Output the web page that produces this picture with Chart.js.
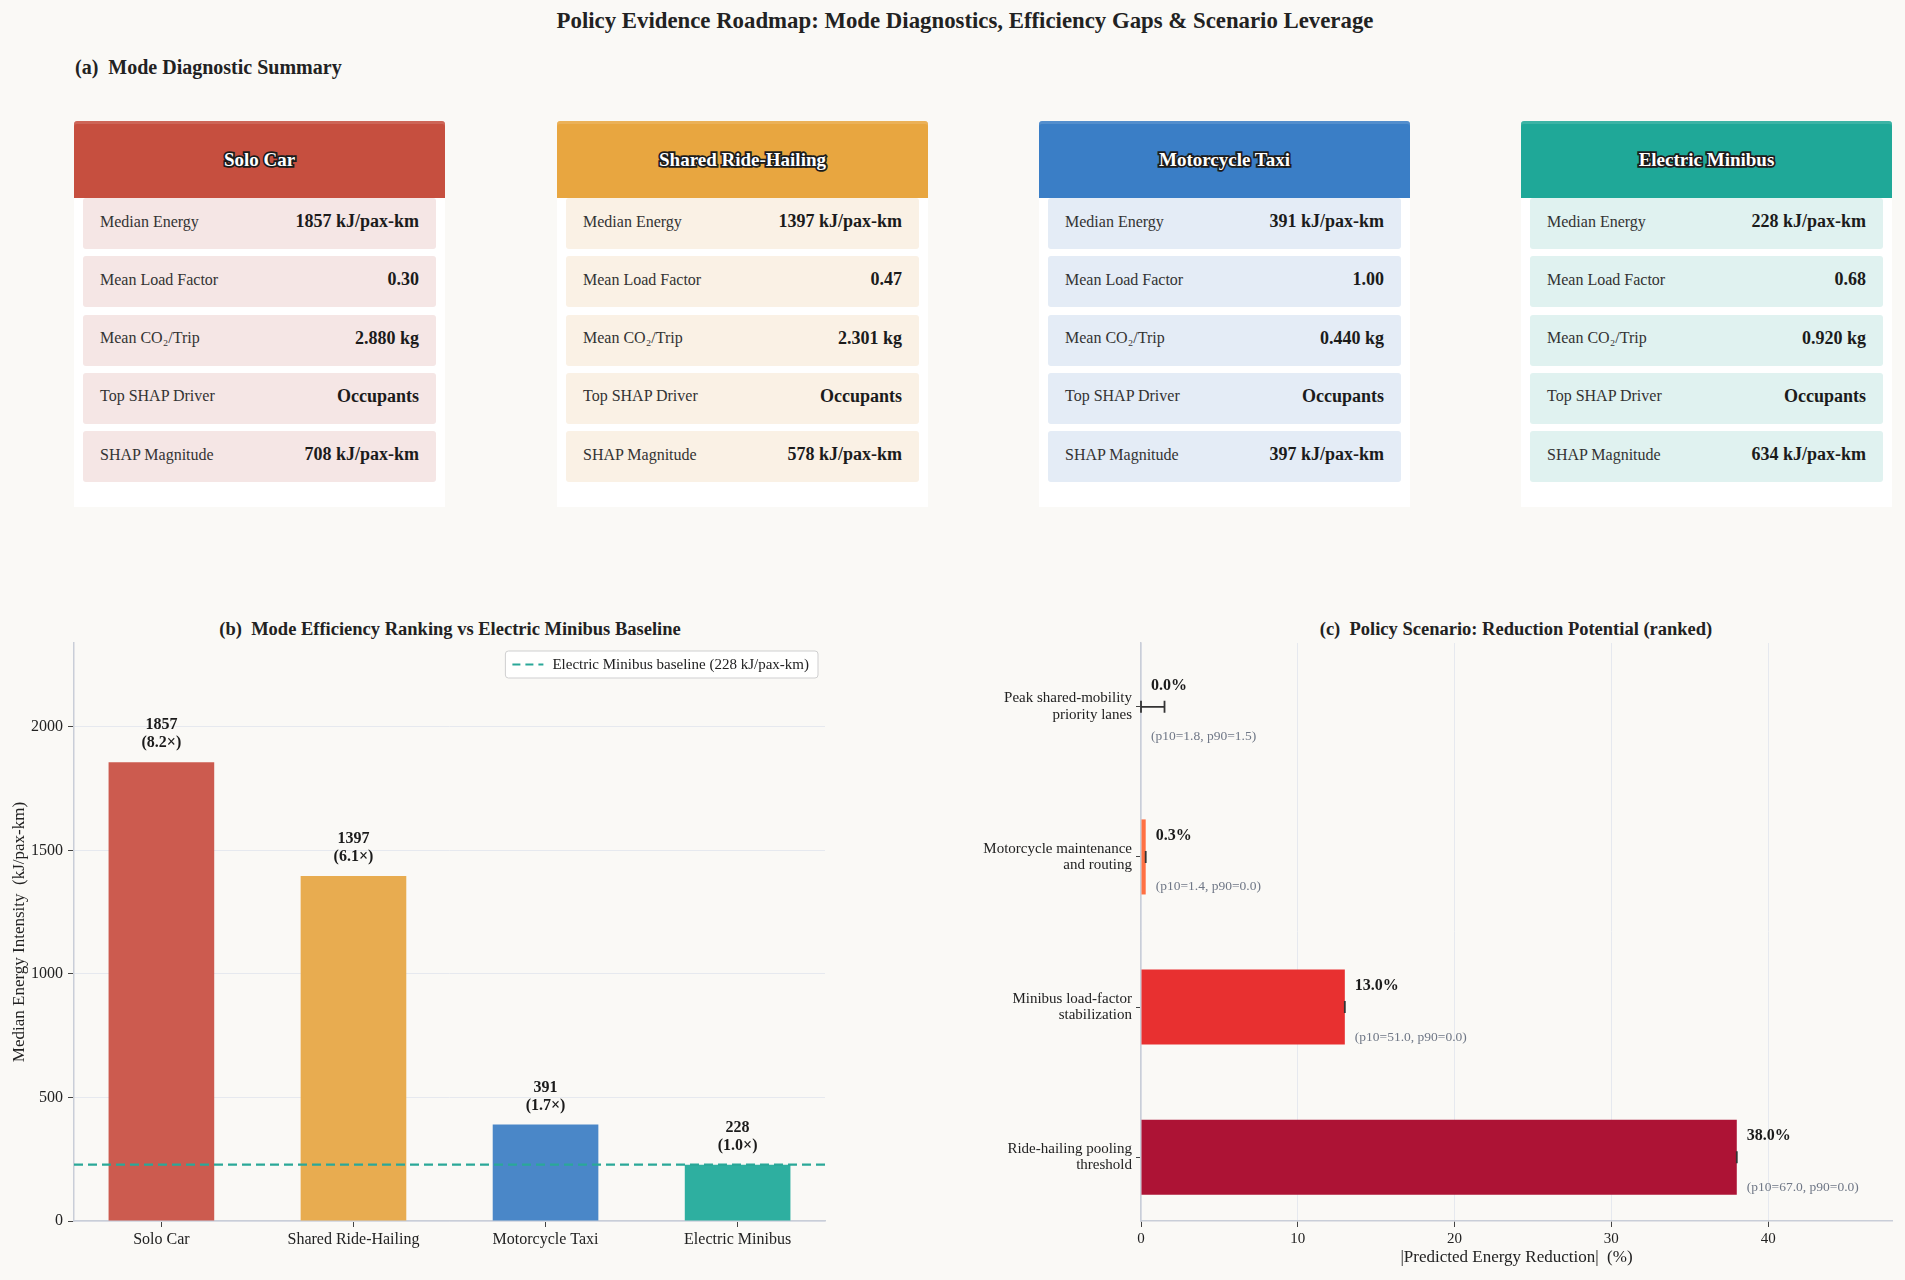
<!DOCTYPE html>
<html>
<head>
<meta charset="utf-8">
<script src="https://cdn.jsdelivr.net/npm/chart.js@4.4.1/dist/chart.umd.min.js"></script>
<style>
body { margin: 0; background: #faf9f6; font-family: "Liberation Serif", "Times New Roman", serif; color: #222; }
#page { position: relative; width: 1905px; height: 1280px; overflow: hidden; }
.ttl { position: absolute; white-space: nowrap; font-weight: bold; color: #222; }
.card { position: absolute; top: 121px; width: 371px; height: 386px; background: #fff; }
.card .hd { height: 77px; border-radius: 3px 3px 0 0; box-shadow: inset 0 3px 0 rgba(255,255,255,0.13);
  display: flex; align-items: center; justify-content: center;
  font-weight: bold; font-size: 19px; color: #fff;
  -webkit-text-stroke: 3.5px #1b1b1b; paint-order: stroke fill; }
.card .row { position: absolute; left: 9px; right: 9px; height: 51px; border-radius: 3px; box-sizing: border-box;
  display: flex; align-items: center; justify-content: space-between; padding: 0 17px 4px 17px; }
.card .row .k { font-size: 16px; color: #333; }
.card .row .v { font-size: 18px; font-weight: bold; color: #1b1b1b; }
.box { position: absolute; }
</style>
</head>
<body>
<div id="page">
  <div class="ttl" style="left:965px;top:21px;transform:translate(-50%,-50%);font-size:22.8px;">Policy Evidence Roadmap: Mode Diagnostics, Efficiency Gaps &amp; Scenario Leverage</div>
  <div class="ttl" style="left:75px;top:67px;transform:translateY(-50%);font-size:20px;">(a)&nbsp; Mode Diagnostic Summary</div>
  <div id="cards"></div>
  <div class="ttl" style="left:450px;top:629px;transform:translate(-50%,-50%);font-size:18.5px;">(b)&nbsp; Mode Efficiency Ranking vs Electric Minibus Baseline</div>
  <div class="ttl" style="left:1516px;top:629px;transform:translate(-50%,-50%);font-size:18.5px;">(c)&nbsp; Policy Scenario: Reduction Potential (ranked)</div>
  <div class="box" style="left:0;top:600px;width:860px;height:680px;"><canvas id="barChart"></canvas></div>
  <div class="box" style="left:880px;top:600px;width:1025px;height:680px;"><canvas id="scenChart"></canvas></div>
</div>
<script>
// panel (a) + (b) data
var modes = ["Solo Car", "Shared Ride-Hailing", "Motorcycle Taxi", "Electric Minibus"];
var medianEnergy = [1857, 1397, 391, 228];
var ratioToBase = [8.2, 6.1, 1.7, 1.0];
var baselineEnergy = 228;
var energyTicks = [0, 500, 1000, 1500, 2000];
var loadFactor = ["0.30", "0.47", "1.00", "0.68"];
var co2PerTrip = ["2.880", "2.301", "0.440", "0.920"];
var topDriver = ["Occupants", "Occupants", "Occupants", "Occupants"];
var shapMagnitude = [708, 578, 397, 634];
var headerColors = ["#c64f3f", "#e8a640", "#3a7ec6", "#1fa898"];
var rowColors = ["#f5e6e5", "#faf1e5", "#e4ecf6", "#e0f2f0"];
var barColors = ["#cc5b4f", "#e8ac50", "#4a87c8", "#2eafa0"];

// panel (c) data
var scenarios = [
  ["Peak shared-mobility", "priority lanes"],
  ["Motorcycle maintenance", "and routing"],
  ["Minibus load-factor", "stabilization"],
  ["Ride-hailing pooling", "threshold"]
];
var reduction = [0.0, 0.3, 13.0, 38.0];
var errLow = [0.0, 0.3, 13.0, 38.0];
var errHigh = [1.5, 0.3, 13.0, 38.0];
var p10 = ["1.8", "1.4", "51.0", "67.0"];
var p90 = ["1.5", "0.0", "0.0", "0.0"];
var reductionTicks = [0, 10, 20, 30, 40];
var scenColors = ["#9e9e9e", "#ff7043", "#e83030", "#ad1335"];

// cards
var cardLeft = [74, 557, 1039, 1521];
var cardsEl = document.getElementById("cards");
modes.forEach(function(m, i) {
  var rows = [
    ["Median Energy", medianEnergy[i] + " kJ/pax-km"],
    ["Mean Load Factor", loadFactor[i]],
    ["Mean CO\u2082/Trip", co2PerTrip[i] + " kg"],
    ["Top SHAP Driver", topDriver[i]],
    ["SHAP Magnitude", shapMagnitude[i] + " kJ/pax-km"]
  ];
  var html = '<div class="hd" style="background:' + headerColors[i] + '">' + m + '</div>';
  rows.forEach(function(r, j) {
    html += '<div class="row" style="top:' + (77 + j * 58.3) + 'px;background:' + rowColors[i] + '">' +
      '<span class="k">' + r[0] + '</span><span class="v">' + r[1] + '</span></div>';
  });
  var d = document.createElement("div");
  d.className = "card";
  d.style.left = cardLeft[i] + "px";
  d.innerHTML = html;
  cardsEl.appendChild(d);
});

Chart.defaults.font.family = '"Liberation Serif", "Times New Roman", serif';
Chart.defaults.color = "#222";

var bar = document.getElementById("barChart");
var scen = document.getElementById("scenChart");

// text above bars in (b)
var barLabels = {
  id: "barLabels",
  afterDatasetsDraw: function(chart) {
    var ctx = chart.ctx;
    var meta = chart.getDatasetMeta(0);
    ctx.save();
    ctx.font = "bold 16px 'Liberation Serif'";
    ctx.fillStyle = "#1b1b1b";
    ctx.textAlign = "center";
    ctx.textBaseline = "middle";
    meta.data.forEach(function(el, i) {
      ctx.fillText(String(medianEnergy[i]), el.x, el.y - 37);
      ctx.fillText("(" + ratioToBase[i].toFixed(1) + "\u00d7)", el.x, el.y - 19);
    });
    ctx.restore();
  }
};

// legend box inside the plot (top right)
var innerLegend = {
  id: "innerLegend",
  afterDraw: function(chart) {
    var ctx = chart.ctx, a = chart.chartArea;
    var ds = chart.data.datasets[1];
    ctx.save();
    ctx.font = "15px 'Liberation Serif'";
    var tw = ctx.measureText(ds.label).width;
    var w = tw + 56, h = 27;
    var x = a.right - 7 - w, y = a.top + 8;
    ctx.fillStyle = "rgba(255,255,255,0.9)";
    ctx.strokeStyle = "#cfcfcf";
    ctx.lineWidth = 1;
    ctx.beginPath();
    ctx.roundRect(x, y, w, h, 3);
    ctx.fill();
    ctx.stroke();
    ctx.strokeStyle = ds.borderColor;
    ctx.lineWidth = 2.2;
    ctx.setLineDash([8, 5]);
    ctx.beginPath();
    ctx.moveTo(x + 7, y + h / 2);
    ctx.lineTo(x + 38, y + h / 2);
    ctx.stroke();
    ctx.setLineDash([]);
    ctx.fillStyle = "#222";
    ctx.textBaseline = "middle";
    ctx.fillText(ds.label, x + 47, y + h / 2 + 1);
    ctx.restore();
  }
};

var myBarChart = new Chart(bar, {
  type: "bar",
  data: {
    datasets: [
      {
        label: "Median energy",
        data: medianEnergy.map(function(v, i) { return { x: i, y: v }; }),
        backgroundColor: barColors,
        borderWidth: 0,
        grouped: false,
        barPercentage: 0.55,
        categoryPercentage: 1.0,
        order: 2
      },
      {
        type: "line",
        label: "Electric Minibus baseline (" + baselineEnergy + " kJ/pax-km)",
        data: [{ x: 0, y: baselineEnergy }, { x: 1, y: baselineEnergy }],
        xAxisID: "x2",
        borderColor: "#2aa898",
        borderWidth: 2.2,
        borderDash: [9, 5],
        pointRadius: 0,
        fill: false,
        order: 0
      }
    ]
  },
  options: {
    responsive: true,
    maintainAspectRatio: false,
    animation: false,
    layout: { padding: { left: 0, right: 35, top: 43, bottom: 0 } },
    plugins: { legend: { display: false }, tooltip: { enabled: false } },
    scales: {
      x: {
        type: "linear",
        offset: false,
        min: -0.455,
        max: 3.455,
        ticks: {
          padding: 3,
          font: { size: 16 },
          callback: function(v) { return modes[v]; }
        },
        afterBuildTicks: function(s) {
          s.ticks = modes.map(function(m, i) { return { value: i }; });
        },
        afterFit: function(s) { s.height = 59; },
        grid: { offset: false, drawOnChartArea: false, tickLength: 6, tickColor: "#444" },
        border: { color: "#c9ced8", width: 1.5 }
      },
      x2: { type: "linear", offset: false, grid: { offset: false }, min: 0, max: 1, display: false },
      y: {
        type: "linear",
        min: 0,
        max: 2340,
        ticks: { padding: 5, font: { size: 16 }, callback: function(v) { return String(v); } },
        afterBuildTicks: function(s) {
          s.ticks = energyTicks.map(function(v) { return { value: v }; });
        },
        afterFit: function(s) { s.width = 74; },
        title: { display: true, text: "Median Energy Intensity  (kJ/pax-km)", font: { size: 17 }, padding: { top: 9, bottom: 0 } },
        grid: { color: "#e6e9ef", lineWidth: 1, tickLength: 6, tickColor: "#444" },
        border: { color: "#c9ced8", width: 1.5 }
      }
    }
  },
  plugins: [barLabels, innerLegend]
});

// error whiskers + labels in (c)
var scenExtras = {
  id: "scenExtras",
  afterDatasetsDraw: function(chart) {
    var ctx = chart.ctx, xs = chart.scales.x;
    var meta = chart.getDatasetMeta(0);
    ctx.save();
    meta.data.forEach(function(el, i) {
      var y = el.y;
      var x1 = xs.getPixelForValue(errLow[i]), x2 = xs.getPixelForValue(errHigh[i]);
      ctx.strokeStyle = "#333";
      ctx.lineWidth = 1.8;
      ctx.beginPath();
      ctx.moveTo(x1, y); ctx.lineTo(x2, y);
      ctx.moveTo(x1, y - 6); ctx.lineTo(x1, y + 6);
      ctx.moveTo(x2, y - 6); ctx.lineTo(x2, y + 6);
      ctx.stroke();
      var lx = el.x + 10;
      ctx.textAlign = "left";
      ctx.textBaseline = "middle";
      ctx.font = "bold 16px 'Liberation Serif'";
      ctx.fillStyle = "#1b1b1b";
      ctx.fillText(reduction[i].toFixed(1) + "%", lx, y - 21);
      ctx.font = "13.5px 'Liberation Serif'";
      ctx.fillStyle = "#6f7786";
      ctx.fillText("(p10=" + p10[i] + ", p90=" + p90[i] + ")", lx, y + 30);
    });
    ctx.restore();
  }
};

var myScenChart = new Chart(scen, {
  type: "bar",
  data: {
    datasets: [{
      label: "Reduction",
      data: reduction.map(function(v, i) { return { x: v, y: i }; }),
      backgroundColor: scenColors,
      borderWidth: 0,
      grouped: false,
      barPercentage: 0.5,
      categoryPercentage: 1.0
    }]
  },
  options: {
    indexAxis: "y",
    responsive: true,
    maintainAspectRatio: false,
    animation: false,
    layout: { padding: { left: 0, right: 13, top: 43, bottom: 0 } },
    plugins: { legend: { display: false }, tooltip: { enabled: false } },
    scales: {
      y: {
        type: "linear",
        offset: false,
        reverse: true,
        min: -0.425,
        max: 3.425,
        ticks: {
          padding: 4,
          font: { size: 15, lineHeight: 1.1 },
          callback: function(v) { return scenarios[v]; }
        },
        afterBuildTicks: function(s) {
          s.ticks = scenarios.map(function(m, i) { return { value: i }; });
        },
        afterFit: function(s) { s.width = 261; },
        grid: { offset: false, drawOnChartArea: false, tickLength: 5, tickColor: "#444" },
        border: { color: "#c9ced8", width: 1.5 }
      },
      x: {
        type: "linear",
        min: 0,
        max: 47.9,
        ticks: { padding: 3, font: { size: 15 }, callback: function(v) { return String(v); } },
        afterBuildTicks: function(s) {
          s.ticks = reductionTicks.map(function(v) { return { value: v }; });
        },
        afterFit: function(s) { s.height = 59; },
        title: { display: true, text: "|Predicted Energy Reduction|  (%)", font: { size: 17 }, padding: { top: 0, bottom: 12 } },
        grid: { color: "#e6e9ef", lineWidth: 1, tickLength: 6, tickColor: "#444" },
        border: { color: "#c9ced8", width: 1.5 }
      }
    }
  },
  plugins: [scenExtras]
});
</script>
</body>
</html>
